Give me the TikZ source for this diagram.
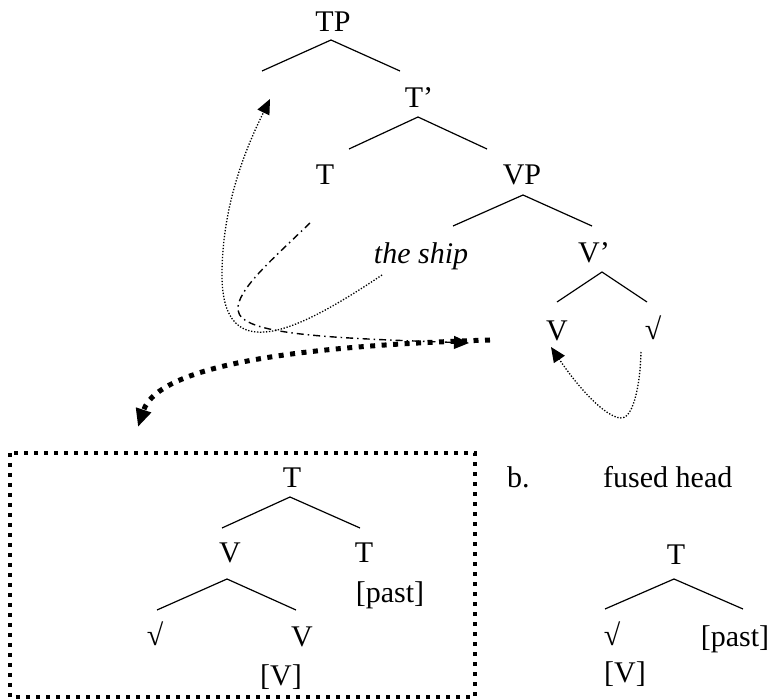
\documentclass[tikz,border=0pt]{standalone}
\usepackage{fontspec}
\setmainfont{Liberation Serif}
\usetikzlibrary{arrows.meta}
\begin{document}
\begin{tikzpicture}[x=1pt,y=-1pt,
  lbl/.style={inner sep=0pt,anchor=base,font=\fontsize{30}{36}\selectfont},
  lblw/.style={inner sep=0pt,anchor=base west,font=\fontsize{30}{36}\selectfont},
  branch/.style={line width=1.2pt},
  thindot/.style={line width=1.3pt,dash pattern=on 1.3pt off 1.7pt},
  dashdot/.style={line width=1.4pt,dash pattern=on 7pt off 4pt on 1.5pt off 4pt},
  heavydot/.style={line width=5pt,dash pattern=on 5pt off 6.5pt},
  boxdot/.style={line width=4pt,dash pattern=on 4pt off 6pt},
  tip/.style={-{Triangle[length=15pt,width=13pt]}},
  bigtip/.style={-{Triangle[length=18pt,width=15pt]}}
]
\useasboundingbox (0,0) rectangle (772,700);

% ---- top tree ----
\node[lbl] (tp) at (333,32) {TP};
\node[lbl] (tbar) at (419,108) {T’};
\node[lbl] (t) at (325,185) {T};
\node[lbl] (vp) at (522,185) {VP};
\node[lbl,font=\fontsize{30}{36}\selectfont\itshape] (ship) at (421,264) {the ship};
\node[lbl] (vbar) at (594,263) {V’};
\node[lbl] (v) at (557,341) {V};
\node[lbl] (root) at (653,340) {√};

\coordinate (tpA) at (331,40); \coordinate (tpL) at (262,71); \coordinate (tpR) at (400,71);
\coordinate (tbA) at (418,117); \coordinate (tbL) at (349,149); \coordinate (tbR) at (487,149);
\coordinate (vpA) at (523,195); \coordinate (vpL) at (453,226); \coordinate (vpR) at (592,226);
\coordinate (vbA) at (602,272); \coordinate (vbL) at (557,302); \coordinate (vbR) at (647,302);
\draw[branch] (tpL) -- (tpA) -- (tpR);
\draw[branch] (tbL) -- (tbA) -- (tbR);
\draw[branch] (vpL) -- (vpA) -- (vpR);
\draw[branch] (vbL) -- (vbA) -- (vbR);

% ---- movement arrows ----
\coordinate (shipS) at (382,275);
\coordinate (shipM) at (222,275);
\coordinate (specE) at (270,99);
\draw[thindot,tip] (shipS) .. controls (300,330) and (222,370) .. (shipM)
  .. controls (222,200) and (250,140) .. (specE);

\coordinate (tS) at (310,223);
\coordinate (tM) at (238,310);
\coordinate (tE) at (469,343);
\draw[dashdot,tip] (tS) .. controls (275,257) and (236,290) .. (tM)
  .. controls (240,335) and (330,338) .. (tE);

\coordinate (hS) at (490,340);
\coordinate (hE) at (138,427);
\draw[heavydot,bigtip] (hS) .. controls (330,345) and (160,360) .. (hE);

\coordinate (rS) at (641,352);
\coordinate (rM) at (620,418);
\coordinate (rE) at (551,347);
\draw[thindot,tip] (rS) .. controls (640,390) and (632,420) .. (rM)
  .. controls (605,416) and (580,390) .. (rE);

% ---- box (a) ----
\draw[boxdot] (10,453) rectangle (475,697);
\node[lbl] (bt) at (292,488) {T};
\node[lbl] (bv) at (230,563) {V};
\node[lbl] (bt2) at (364,563) {T};
\node[lbl] (bpast) at (390,603) {[past]};
\node[lbl] (broot) at (155,645) {√};
\node[lbl] (bv2) at (302,647) {V};
\node[lbl] (bvf) at (281,685) {[V]};
\coordinate (btA) at (290,497); \coordinate (btL) at (222,528); \coordinate (btR) at (360,528);
\coordinate (bvA) at (227,579); \coordinate (bvL) at (157,610); \coordinate (bvR) at (296,610);
\draw[branch] (btL) -- (btA) -- (btR);
\draw[branch] (bvL) -- (bvA) -- (bvR);

% ---- (b) fused head ----
\node[lblw] (blab) at (507,488) {b.};
\node[lblw] (fused) at (603,488) {fused head};
\node[lbl] (ft) at (676,565) {T};
\node[lbl] (froot) at (612,645) {√};
\node[lbl] (fpast) at (735,647) {[past]};
\node[lbl] (fv) at (625,683) {[V]};
\coordinate (ftA) at (674,579); \coordinate (ftL) at (605,609); \coordinate (ftR) at (743,609);
\draw[branch] (ftL) -- (ftA) -- (ftR);
\end{tikzpicture}
\end{document}
